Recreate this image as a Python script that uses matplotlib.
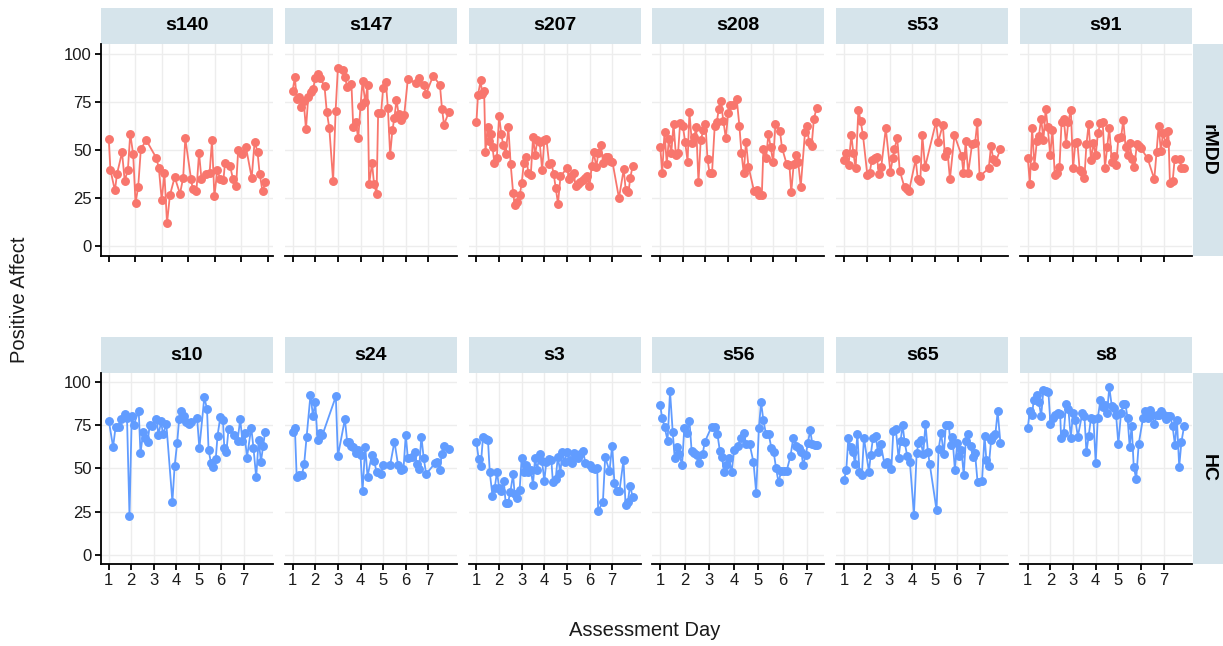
import matplotlib
matplotlib.use('Agg')
import matplotlib.pyplot as plt
from matplotlib.patches import Rectangle

plt.rcParams['font.family'] = ['Liberation Sans', 'DejaVu Sans']

# ---------------- data ----------------
rmdd_subjects = ['s140', 's147', 's207', 's208', 's53', 's91']
hc_subjects = ['s10', 's24', 's3', 's56', 's65', 's8']
day_ticks = [1, 2, 3, 4, 5, 6, 7]
pa_ticks = [0, 25, 50, 75, 100]

s140_day = [1.00,1.06,1.23,1.31,1.50,1.60,1.72,1.81,1.92,2.01,2.11,2.21,2.41,2.79,2.89,3.00,3.10,3.20,3.31,3.49,3.69,3.81,3.89,4.11,4.17,4.31,4.41,4.50,4.69,4.81,4.90,4.99,5.10,5.21,5.33,5.39,5.58,5.69,5.81,5.89,6.03,6.18,6.40,6.51,6.62,6.70,6.81,6.91]
s140_pa = [55.5,39.7,29.0,37.6,48.8,34.0,39.7,58.4,47.8,22.5,30.9,50.3,55.2,46.0,40.7,23.9,38.0,12.0,26.6,35.9,27.3,35.6,56.0,34.7,29.9,28.5,48.5,35.2,37.6,38.3,55.0,25.9,39.5,35.0,34.2,43.1,41.8,35.2,31.1,50.0,47.8,51.7,35.6,54.3,49.0,37.8,28.5,33.3]

s147_day = [1.00,1.10,1.18,1.26,1.37,1.49,1.59,1.69,1.81,1.91,2.00,2.10,2.21,2.41,2.51,2.62,2.79,2.90,3.00,3.21,3.31,3.41,3.60,3.68,3.79,3.90,4.00,4.09,4.21,4.31,4.38,4.51,4.60,4.71,4.78,4.91,5.00,5.12,5.21,5.31,5.41,5.50,5.59,5.68,5.78,5.85,5.93,6.09,6.44,6.59,6.79,6.90,7.21,7.51,7.60,7.69,7.91]
s147_pa = [80.6,87.8,76.3,77.5,72.3,75.3,60.7,77.5,80.1,81.8,87.5,89.2,87.5,83.0,69.8,61.5,33.8,70.3,92.4,91.6,88.1,82.6,84.0,61.7,64.6,56.0,72.9,85.7,74.9,83.5,32.3,43.1,32.3,27.3,69.4,69.4,82.1,85.2,71.8,47.4,60.3,66.8,76.1,68.9,65.5,67.2,68.0,86.6,84.9,87.3,83.8,79.2,88.5,83.7,71.5,63.2,69.8]

s207_day = [1.00,1.07,1.19,1.25,1.34,1.40,1.49,1.56,1.63,1.71,1.79,1.90,2.00,2.10,2.18,2.29,2.41,2.51,2.62,2.69,2.79,2.91,3.00,3.09,3.21,3.29,3.40,3.50,3.59,3.69,3.79,3.90,4.00,4.09,4.21,4.31,4.41,4.50,4.60,4.71,5.00,5.09,5.19,5.29,5.38,5.50,5.59,5.71,5.78,5.88,5.99,6.09,6.18,6.29,6.38,6.49,6.59,6.71,6.79,6.91,7.00,7.29,7.50,7.59,7.71,7.79,7.90]
s207_pa = [64.6,78.7,86.1,79.2,80.6,49.1,61.7,54.8,58.2,51.4,43.5,45.7,67.7,58.2,52.6,47.9,61.7,42.8,27.7,21.6,23.0,26.5,32.8,43.1,46.2,38.0,37.1,56.9,47.4,55.2,54.3,39.7,55.2,55.5,42.8,43.1,37.6,30.2,22.2,36.3,40.7,34.9,36.3,38.0,31.1,32.5,33.2,34.5,35.4,36.3,31.4,41.8,48.8,41.1,48.6,52.6,43.5,46.2,46.6,44.5,44.0,25.1,40.0,29.0,28.0,35.7,41.9]

s208_day = [1.00,1.09,1.19,1.29,1.38,1.49,1.59,1.69,1.79,1.88,2.00,2.10,2.21,2.29,2.40,2.50,2.59,2.69,2.79,2.91,3.00,3.09,3.18,3.29,3.41,3.50,3.59,3.68,3.79,3.90,4.00,4.09,4.21,4.38,4.50,4.59,4.69,4.79,4.90,5.15,5.26,5.38,5.49,5.56,5.68,5.78,5.88,5.99,6.09,6.29,6.38,6.59,6.71,6.79,6.90,7.00,7.10,7.21,7.40,7.50,7.57,7.69,7.79,7.91]
s208_pa = [51.7,38.3,59.5,42.8,55.5,48.6,63.7,47.4,48.6,64.1,62.4,54.3,44.0,69.8,53.4,56.5,62.0,33.2,55.2,60.3,63.7,45.2,38.0,38.3,62.7,64.3,71.5,75.3,65.1,56.0,69.2,73.5,73.2,76.6,62.4,48.3,38.0,54.3,41.4,28.5,29.0,26.8,26.8,50.3,46.0,58.2,51.7,43.6,63.4,60.0,51.2,42.6,42.3,28.0,42.8,47.4,43.6,30.9,59.5,62.7,54.3,52.1,66.0,71.8]

s53_day = [1.00,1.10,1.20,1.32,1.41,1.51,1.63,1.73,1.83,2.02,2.12,2.22,2.34,2.44,2.53,2.63,2.83,3.03,3.14,3.21,3.33,3.44,3.65,3.75,3.85,4.14,4.23,4.34,4.43,4.55,5.03,5.13,5.33,5.42,5.53,5.64,5.84,6.15,6.23,6.33,6.44,6.61,6.74,6.84,6.94,7.34,7.44,7.54,7.64,7.85]
s53_pa = [44.8,48.6,42.3,57.7,48.3,40.5,71.0,64.9,57.7,37.1,38.0,44.8,45.7,46.2,37.5,41.1,61.2,38.8,45.7,50.5,56.4,39.3,30.6,29.9,28.9,45.2,34.9,33.7,57.7,41.1,64.6,54.3,63.2,46.9,49.7,34.9,57.7,47.1,38.3,54.6,38.0,53.1,53.4,64.6,36.3,40.5,52.1,45.2,43.6,50.5]

s91_day = [1.00,1.09,1.19,1.29,1.40,1.49,1.59,1.69,1.79,1.88,1.99,2.09,2.19,2.29,2.40,2.49,2.59,2.69,2.79,2.90,3.00,3.10,3.19,3.29,3.40,3.50,3.59,3.69,3.79,3.90,4.00,4.10,4.21,4.31,4.41,4.51,4.60,4.71,4.79,4.90,5.00,5.12,5.22,5.32,5.41,5.51,5.60,5.71,5.82,5.91,6.00,6.29,6.59,6.69,6.78,6.88,6.97,7.10,7.21,7.28,7.40,7.49,7.71,7.79,7.91]
s91_pa = [45.7,32.5,61.5,41.9,54.6,57.4,66.3,55.2,71.5,61.7,47.4,60.3,36.8,38.3,41.1,64.3,66.0,53.1,64.6,71.0,40.5,53.8,54.0,39.7,38.8,35.4,52.9,63.7,44.8,53.4,47.4,58.9,64.1,64.3,40.9,51.7,61.5,44.0,46.9,42.3,56.0,56.5,65.5,51.4,47.4,53.4,45.4,41.4,53.1,52.1,50.9,45.7,34.9,49.1,62.4,49.5,58.6,53.4,60.0,32.8,33.7,45.4,45.4,40.5,40.5]

s10_day = [1.00,1.19,1.30,1.44,1.52,1.70,1.81,1.92,2.02,2.11,2.33,2.41,2.53,2.63,2.73,2.82,2.93,3.12,3.21,3.33,3.41,3.56,3.83,3.93,4.04,4.13,4.23,4.36,4.45,4.56,4.66,4.93,5.03,5.25,5.37,5.44,5.55,5.64,5.76,5.84,5.96,6.08,6.14,6.23,6.33,6.56,6.73,6.85,6.94,7.04,7.15,7.34,7.44,7.56,7.67,7.77,7.87,7.96]
s10_pa = [77.5,62.4,73.8,73.8,78.6,81.3,79.0,22.7,80.5,75.1,83.2,58.8,70.9,67.8,65.1,75.1,74.2,78.6,69.4,77.1,69.7,75.5,30.8,51.6,64.4,78.6,83.2,80.5,76.7,75.5,76.5,79.0,61.7,90.9,84.4,60.7,53.0,51.1,55.5,69.0,79.4,78.0,62.0,59.3,72.8,69.4,65.9,78.6,66.1,70.3,56.3,73.6,61.7,44.9,66.7,53.9,63.0,71.3]

s24_day = [1.00,1.10,1.18,1.29,1.41,1.51,1.62,1.79,1.90,2.00,2.10,2.21,2.32,2.91,3.00,3.31,3.41,3.50,3.60,3.69,3.79,3.90,4.00,4.09,4.21,4.31,4.50,4.60,4.71,4.90,5.00,5.31,5.50,5.66,5.78,5.90,6.00,6.09,6.29,6.40,6.49,6.59,6.69,6.79,6.90,7.29,7.40,7.50,7.59,7.69,7.91]
s24_pa = [70.9,73.6,44.9,46.2,46.2,52.6,68.4,92.5,80.0,88.2,66.5,70.7,69.4,91.5,57.2,78.4,65.5,65.1,63.0,62.6,58.8,60.7,57.8,37.0,62.6,45.3,57.8,54.3,48.2,46.8,52.0,52.0,65.5,52.0,49.1,49.7,69.4,56.3,56.8,59.3,52.4,49.7,68.4,56.3,46.8,53.0,53.9,49.1,58.2,63.2,61.3]

s3_day = [1.00,1.10,1.19,1.29,1.41,1.51,1.59,1.71,1.81,1.91,2.00,2.10,2.21,2.29,2.40,2.50,2.62,2.69,2.79,2.91,3.00,3.09,3.21,3.29,3.41,3.50,3.59,3.68,3.79,3.90,4.00,4.09,4.21,4.31,4.38,4.50,4.60,4.71,4.79,4.90,5.00,5.12,5.21,5.31,5.41,5.50,5.59,5.71,5.82,6.00,6.12,6.22,6.34,6.38,6.59,6.69,6.88,7.00,7.10,7.21,7.32,7.50,7.59,7.69,7.79,7.91]
s3_pa = [65.1,55.5,51.4,68.0,67.0,66.5,47.8,34.3,38.9,48.2,38.9,37.0,43.0,30.4,30.4,36.6,46.6,35.1,32.8,37.6,56.3,47.8,52.0,48.2,49.1,40.5,55.9,49.1,58.2,54.3,42.8,53.9,55.3,54.9,42.0,43.9,56.8,47.2,59.7,53.9,59.3,54.9,53.0,58.8,57.8,55.9,58.2,60.1,53.0,52.0,50.1,49.7,50.1,25.6,30.8,56.5,48.6,63.2,41.4,37.2,37.0,54.9,28.9,30.8,40.1,33.3]

s56_day = [1.00,1.08,1.18,1.30,1.40,1.51,1.59,1.70,1.78,1.89,1.98,2.08,2.19,2.28,2.37,2.48,2.59,2.73,2.81,3.09,3.22,3.33,3.43,3.51,3.61,3.70,3.80,3.91,4.01,4.18,4.29,4.41,4.50,4.64,4.80,4.91,5.02,5.11,5.20,5.31,5.42,5.53,5.62,5.72,5.82,5.93,6.04,6.15,6.31,6.42,6.55,6.66,6.75,6.82,6.93,7.01,7.11,7.20,7.31,7.37]
s56_pa = [86.3,79.0,73.8,66.1,94.4,70.9,55.9,62.6,58.2,52.0,73.2,70.3,77.6,60.1,58.8,57.8,53.0,58.2,65.1,74.0,73.8,69.7,60.1,56.6,47.8,52.0,56.3,47.8,60.7,63.2,67.8,70.3,64.2,64.2,53.6,36.0,73.6,88.1,78.0,69.7,69.7,61.7,59.7,50.1,42.0,48.6,48.6,48.6,57.4,67.8,63.2,62.0,59.7,52.0,57.8,64.5,71.9,64.0,63.6,63.6]

s65_day = [1.00,1.10,1.19,1.29,1.40,1.49,1.59,1.68,1.79,1.88,2.10,2.18,2.28,2.40,2.50,2.62,2.79,2.91,3.09,3.18,3.29,3.41,3.50,3.59,3.68,3.79,3.91,4.09,4.21,4.29,4.38,4.50,4.60,4.71,4.79,5.09,5.18,5.29,5.41,5.50,5.63,5.71,5.79,5.90,6.00,6.09,6.19,6.29,6.38,6.49,6.59,6.69,6.79,6.90,7.10,7.21,7.29,7.40,7.50,7.59,7.69,7.79,7.91]
s65_pa = [43.4,49.1,67.4,62.6,59.3,52.4,69.9,48.2,46.2,67.8,48.2,57.8,67.4,69.0,59.3,64.2,52.4,53.9,49.5,71.7,72.8,55.9,65.9,75.1,65.1,57.4,53.9,23.5,58.8,64.5,66.5,58.2,75.7,59.3,52.4,26.0,61.3,70.3,58.2,74.8,74.8,63.6,68.4,49.1,64.5,57.4,60.7,46.2,65.9,69.7,63.0,56.8,58.8,42.4,43.0,69.0,54.9,51.6,66.5,69.0,69.9,82.9,64.9]

s8_day = [1.00,1.09,1.19,1.26,1.40,1.49,1.59,1.69,1.81,1.91,2.00,2.10,2.21,2.32,2.43,2.47,2.59,2.69,2.79,2.90,3.00,3.10,3.21,3.41,3.50,3.59,3.69,3.79,3.90,4.00,4.09,4.21,4.31,4.41,4.50,4.60,4.71,4.79,4.90,5.00,5.12,5.21,5.31,5.41,5.50,5.59,5.68,5.79,5.90,6.09,6.19,6.29,6.38,6.49,6.59,6.69,6.79,6.90,7.00,7.10,7.21,7.29,7.40,7.50,7.59,7.69,7.79,7.91]
s8_pa = [73.6,83.2,80.7,89.6,92.3,88.2,80.2,95.3,94.4,94.0,75.7,79.0,80.9,81.9,81.3,67.8,70.7,87.1,84.4,67.8,81.9,78.0,68.4,81.9,80.5,59.3,68.8,79.0,78.6,53.0,79.0,89.6,85.7,86.3,81.9,96.7,86.1,84.8,80.9,64.2,81.9,87.1,87.3,79.0,62.6,74.6,51.1,43.9,64.2,79.0,82.9,79.0,83.8,80.9,75.5,80.9,80.9,83.4,80.9,78.6,80.0,80.3,74.2,63.6,78.0,51.1,65.5,74.6]

rmdd_data = {'s140': (s140_day, s140_pa), 's147': (s147_day, s147_pa),
             's207': (s207_day, s207_pa), 's208': (s208_day, s208_pa),
             's53': (s53_day, s53_pa), 's91': (s91_day, s91_pa)}
hc_data = {'s10': (s10_day, s10_pa), 's24': (s24_day, s24_pa),
           's3': (s3_day, s3_pa), 's56': (s56_day, s56_pa),
           's65': (s65_day, s65_pa), 's8': (s8_day, s8_pa)}

# ---------------- layout ----------------
W, H, DPI = 1223, 646, 100
fig = plt.figure(figsize=(W / DPI, H / DPI), dpi=DPI)
fig.patch.set_facecolor('white')

STRIP_COLOR = '#D6E4EB'
TEXT_COLOR = '#1a1a1a'


def frac_rect(left, top, width, height):
    return [left / W, 1 - (top + height) / H, width / W, height / H]


def add_strip(left, top, width, height, text, rotation=0):
    x0, y0, w, h = frac_rect(left, top, width, height)
    fig.add_artist(Rectangle((x0, y0), w, h, transform=fig.transFigure,
                             facecolor=STRIP_COLOR, edgecolor='none', zorder=0))
    fig.text(x0 + w / 2, y0 + h / 2, text, ha='center', va='center',
             fontsize=14, fontweight='bold', color='black', rotation=rotation)


rows = [
    dict(label='rMDD', subjects=rmdd_subjects, data=rmdd_data, color='#F8766D',
         top=44, height=212, strip_top=8, xlabels=False),
    dict(label='HC', subjects=hc_subjects, data=hc_data, color='#619CFF',
         top=373, height=191, strip_top=337, xlabels=True),
]

COL_LEFT0 = 101
COL_STEP = 183.8
COL_W = 172
STRIP_H = 36

for row in rows:
    for i, subj in enumerate(row['subjects']):
        left = COL_LEFT0 + i * COL_STEP
        ax = fig.add_axes(frac_rect(left, row['top'], COL_W, row['height']))
        days, pa = row['data'][subj]
        ax.plot(days, pa, color=row['color'], lw=1.3, marker='o', ms=5.4,
                mfc=row['color'], mec=row['color'], zorder=3)
        lo, hi = min(days), max(days)
        rng = hi - lo
        ax.set_xlim(lo - 0.05 * rng, hi + 0.05 * rng)
        ax.set_ylim(-5, 105)
        ax.set_xticks(day_ticks)
        ax.set_yticks(pa_ticks)
        ax.set_facecolor('white')
        ax.grid(True, color='#EDEDED', lw=1.0)
        ax.set_axisbelow(True)
        for s in ['top', 'right']:
            ax.spines[s].set_visible(False)
        ax.spines['bottom'].set_color('black')
        ax.spines['bottom'].set_linewidth(1.3)
        ax.spines['left'].set_color('black')
        ax.spines['left'].set_linewidth(1.3)
        ax.tick_params(direction='out', length=4, width=1.3, color='black',
                       labelsize=12, labelcolor=TEXT_COLOR, pad=2.5)
        if i > 0:
            ax.spines['left'].set_visible(False)
            ax.tick_params(axis='y', left=False, labelleft=False)
        if not row['xlabels']:
            ax.tick_params(axis='x', labelbottom=False)
        add_strip(left, row['strip_top'], COL_W, STRIP_H, subj)
    # right facet strip
    add_strip(1193, row['top'], 30, row['height'], row['label'], rotation=-90)

fig.text(645 / W, 1 - 631 / H, 'Assessment Day', ha='center', va='center',
         fontsize=14.5, color=TEXT_COLOR)
fig.text(20 / W, 1 - 300 / H, 'Positive Affect', ha='center', va='center',
         fontsize=14.5, color=TEXT_COLOR, rotation=90)

fig.savefig('out.png', dpi=DPI, facecolor='white')
